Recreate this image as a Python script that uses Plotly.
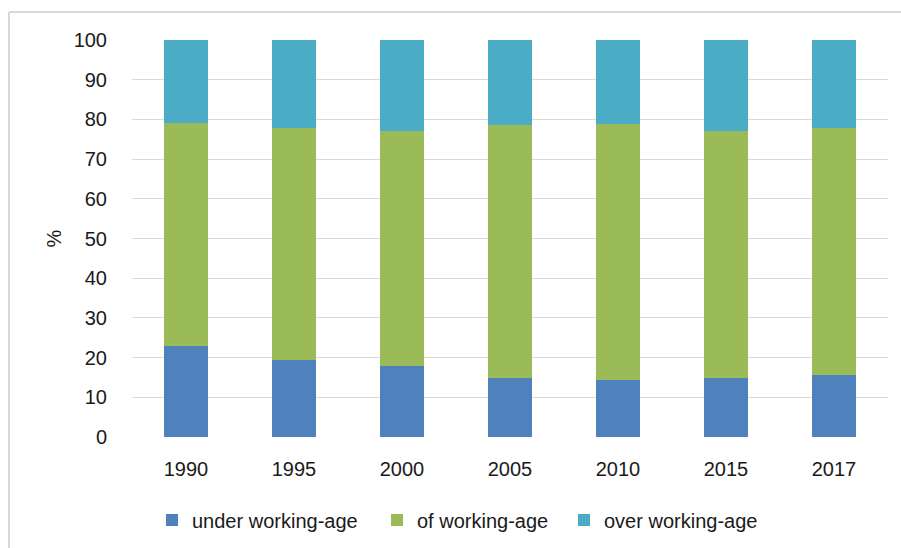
import plotly.graph_objects as go

# Population structure by age group, share of total (%)
years = ["1990", "1995", "2000", "2005", "2010", "2015", "2017"]
under_working_age = [22.8, 19.5, 18.0, 14.9, 14.3, 14.9, 15.5]
of_working_age = [56.3, 58.4, 59.0, 63.6, 64.5, 62.1, 62.4]
over_working_age = [20.9, 22.1, 23.0, 21.5, 21.2, 23.0, 22.1]

series_names = ["under working-age", "of working-age", "over working-age"]
series_values = [under_working_age, of_working_age, over_working_age]
series_colors = ["#4F81BD", "#9BBB59", "#4BACC6"]
legend_ids = ["legend", "legend2", "legend3"]

FONT = "Liberation Sans Narrow, Arial Narrow, Liberation Sans, Arial, sans-serif"
FS = 20

W, H = 901, 548
L, R, T, B = 132, 13, 40, 111
pw, ph = W - L - R, H - T - B


def px_x(x):
    return (x - L) / pw


def px_y(y):
    return (H - B - y) / ph


fig = go.Figure()
for name, vals, color, lg in zip(series_names, series_values, series_colors, legend_ids):
    fig.add_trace(go.Bar(
        x=years, y=vals, name=name, legend=lg,
        marker=dict(color=color, line=dict(width=0)),
    ))

legend_text_x = [192, 417, 604]
legend_common = dict(
    orientation="h", yanchor="middle", xanchor="left",
    font=dict(family=FONT, size=FS, color="#1a1a1a"),
    bgcolor="rgba(0,0,0,0)", borderwidth=0,
)
fig.update_layout(
    legend=dict(x=px_x(legend_text_x[0] - 40), y=px_y(520), **legend_common),
    legend2=dict(x=px_x(legend_text_x[1] - 40), y=px_y(520), **legend_common),
    legend3=dict(x=px_x(legend_text_x[2] - 40), y=px_y(520), **legend_common),
)

fig.update_layout(
    width=W, height=H,
    margin=dict(l=L, r=R, t=T, b=B, pad=0, autoexpand=False),
    barmode="stack", bargap=0.6,
    plot_bgcolor="white", paper_bgcolor="white",
    font=dict(family=FONT, size=FS, color="#1a1a1a"),
    showlegend=True,
    xaxis=dict(
        showgrid=False, showline=False, zeroline=False,
        ticks="outside", ticklen=14, tickcolor="rgba(0,0,0,0)",
        tickfont=dict(size=FS),
    ),
    yaxis=dict(
        range=[0, 100], dtick=10, tick0=0,
        showgrid=True, gridcolor="#d9d9d9", gridwidth=1,
        zeroline=False, showline=False,
        ticks="outside", ticklen=20, tickcolor="rgba(0,0,0,0)",
        tickfont=dict(size=FS),
        title=dict(text="%", standoff=6, font=dict(size=FS)),
    ),
)

# Thin frame along the top and left edges of the chart area
fig.add_shape(
    type="line", xref="paper", yref="paper",
    x0=px_x(9), x1=px_x(9), y0=px_y(H), y1=px_y(12),
    line=dict(color="#d9d9d9", width=2),
)
fig.add_shape(
    type="line", xref="paper", yref="paper",
    x0=px_x(9), x1=px_x(W), y0=px_y(12), y1=px_y(12),
    line=dict(color="#d9d9d9", width=2),
)

fig.write_html("out.html")
